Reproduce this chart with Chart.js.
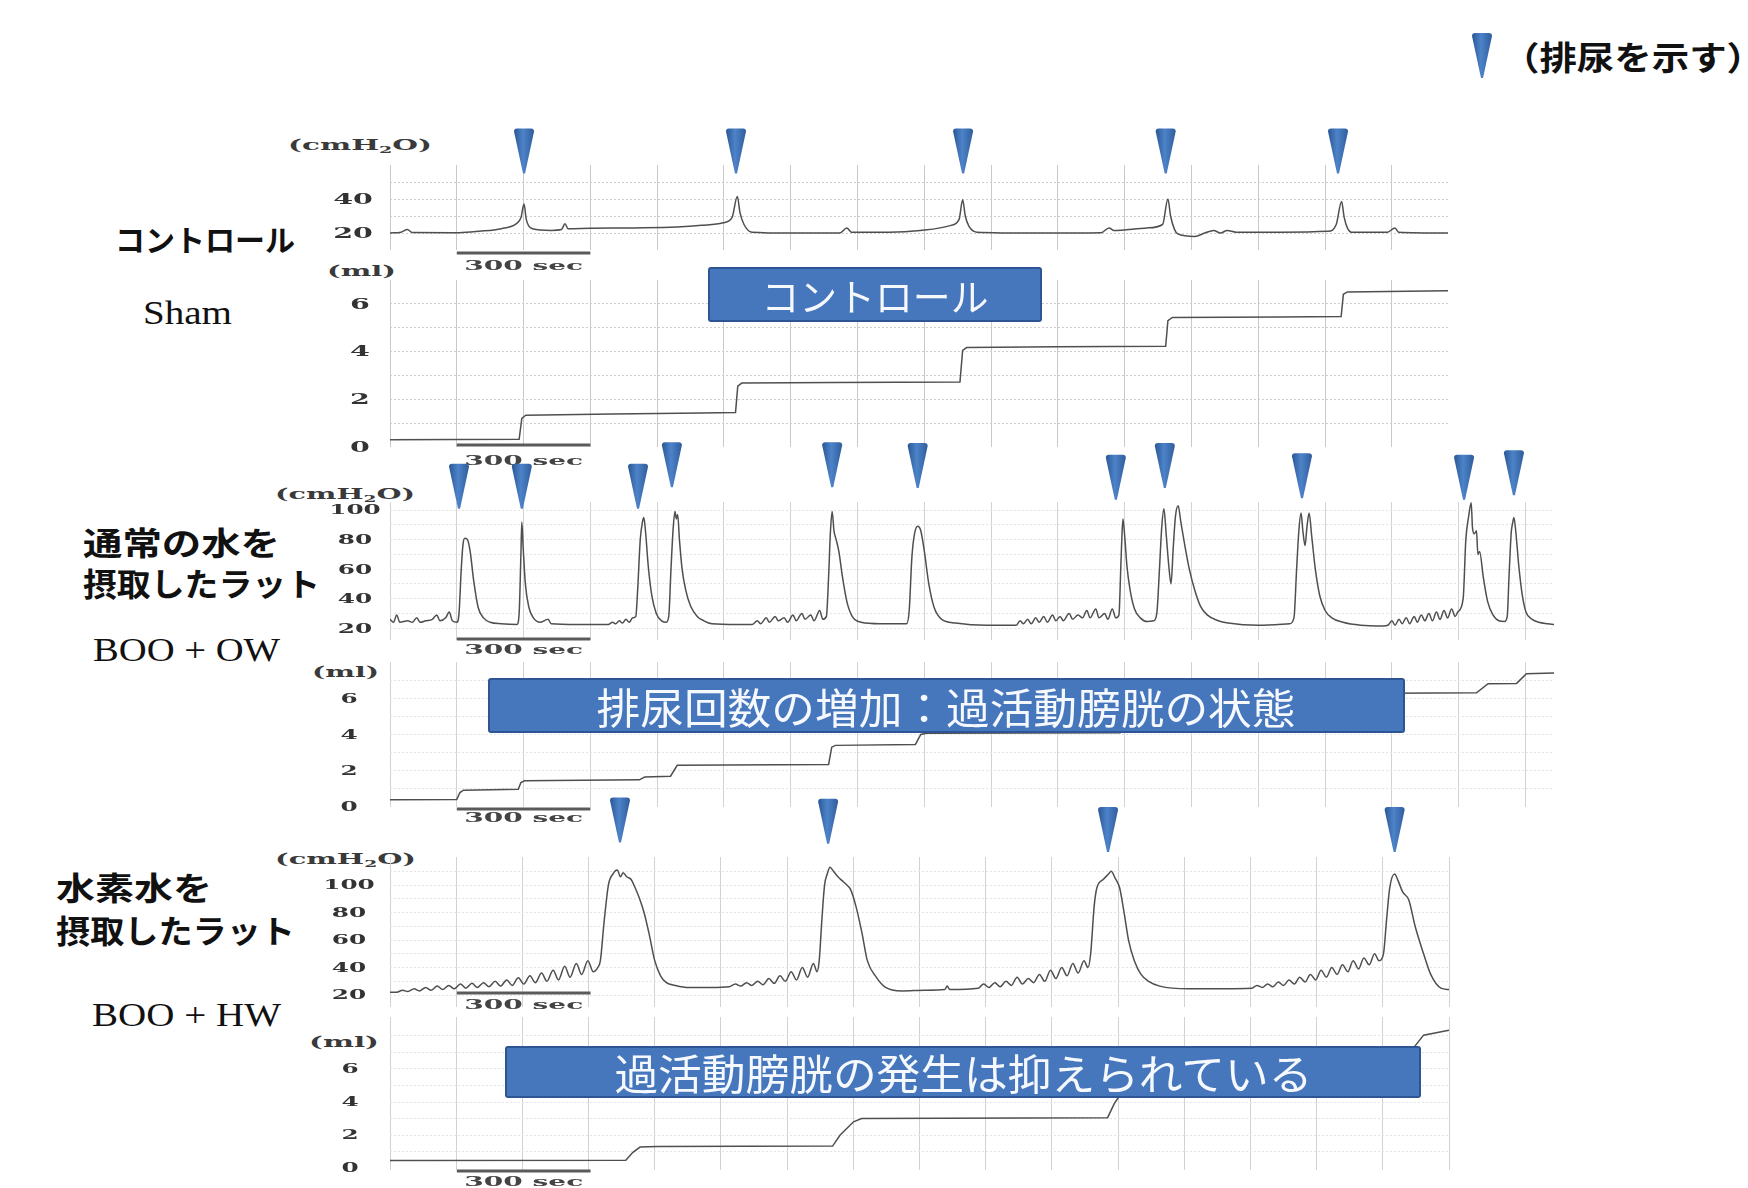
<!DOCTYPE html>
<html lang="ja">
<head>
<meta charset="utf-8">
<title>膀胱内圧測定</title>
<script src="https://cdn.jsdelivr.net/npm/chart.js@4.4.1/dist/chart.umd.min.js"></script>
<style>
  html, body { margin: 0; padding: 0; background: #ffffff; }
  body { position: relative; width: 1748px; height: 1188px; overflow: hidden; }
  canvas { position: absolute; }
  .txt { position: absolute; white-space: nowrap; line-height: 1; transform-origin: 0 50%; }
  .jp { font-family: "Noto Sans CJK JP", sans-serif; font-weight: 700; color: #111; }
  .rom { font-family: "Liberation Serif", serif; color: #111; }
  .unit { font-family: "DejaVu Serif", serif; font-weight: 700; font-size: 14px; color: #3a3a3a; }
  .unit small { font-size: 9px; vertical-align: -3px; }
  .box { position: absolute; z-index: 5; box-sizing: border-box; display: flex; align-items: center; justify-content: center; background: #4677bd; border: 2px solid #2d5593; border-radius: 3px; }
  .box span { display: inline-block; white-space: nowrap; line-height: 1; color: #f5f8fc; font-family: "Noto Sans CJK JP", sans-serif; transform-origin: 50% 50%; }
</style>
</head>
<body>

<!-- 凡例 -->
<svg style="position:absolute;left:1470px;top:32px" width="24" height="48">
  <defs>
    <linearGradient id="ag" x1="0" x2="1" y1="0" y2="0">
      <stop offset="0" stop-color="#2a5795"/><stop offset="0.45" stop-color="#4d83c9"/><stop offset="1" stop-color="#2f5d9c"/>
    </linearGradient>
  </defs>
  <path d="M2 4 Q2 1 5 1 L19 1 Q22 1 22 4 L13 46 L11 46 Z" fill="url(#ag)"/>
</svg>
<div class="txt jp" style="left:1502px;top:40px;font-size:33px" data-w="262">（排尿を示す）</div>

<!-- 左側ラベル -->
<div class="txt jp" style="left:115px;top:223px;font-size:30px" data-w="180">コントロール</div>
<div class="txt rom" style="left:143px;top:296px;font-size:34px" data-w="89">Sham</div>
<div class="txt jp" style="left:83px;top:525px;font-size:32px" data-w="197">通常の水を</div>
<div class="txt jp" style="left:83px;top:566px;font-size:32px" data-w="237">摂取したラット</div>
<div class="txt rom" style="left:93px;top:634px;font-size:33px" data-w="187">BOO + OW</div>
<div class="txt jp" style="left:56px;top:870px;font-size:32px" data-w="156">水素水を</div>
<div class="txt jp" style="left:56px;top:913px;font-size:32px" data-w="239">摂取したラット</div>
<div class="txt rom" style="left:92px;top:999px;font-size:33px" data-w="189">BOO + HW</div>

<!-- 単位 -->
<div class="txt unit" style="left:288px;top:138px" data-w="144">(cmH<small>2</small>O)</div>
<div class="txt unit" style="left:327px;top:264px" data-w="69">(ml)</div>
<div class="txt unit" style="left:275px;top:487px" data-w="140">(cmH<small>2</small>O)</div>
<div class="txt unit" style="left:312px;top:665px" data-w="67">(ml)</div>
<div class="txt unit" style="left:275px;top:852px" data-w="141">(cmH<small>2</small>O)</div>
<div class="txt unit" style="left:309px;top:1035px" data-w="70">(ml)</div>

<!-- 説明ボックス -->
<div class="box" style="left:708px;top:267px;width:334px;height:55px"><span style="font-size:38px" data-w="227">コントロール</span></div>
<div class="box" style="left:488px;top:678px;width:917px;height:55px"><span style="font-size:42px" data-w="699">排尿回数の増加：過活動膀胱の状態</span></div>
<div class="box" style="left:505px;top:1046px;width:916px;height:52px"><span style="font-size:42px" data-w="698">過活動膀胱の発生は抑えられている</span></div>

<script>
// 時間 (sec), 膀胱内圧 (cmH2O) — Sham コントロール
const CONTROL_PRESSURE = [
  [0, 20], [25, 20.5], [39, 22], [50, 20.3], [155, 20.2], [200, 21], [250, 22.5], [284, 25.5], [294, 29],
  [301, 37], [306, 28], [312, 24], [320, 22.5], [362, 21.5], [385, 22], [393, 25.5], [400, 22.5], [450, 22.8],
  [550, 23], [644, 23.5], [700, 24.5], [748, 26], [768, 29], [780, 41.5], [786, 32], [795, 25], [813, 20.5],
  [900, 20], [1010, 20], [1026, 23], [1036, 20.5], [1120, 20.5], [1191, 21.5], [1260, 24.5], [1278, 28],
  [1286, 39.5], [1292, 30], [1300, 24], [1318, 20.5], [1450, 20], [1597, 20.2], [1615, 23], [1625, 21.5],
  [1700, 23], [1735, 25], [1747, 40], [1753, 30], [1762, 22], [1769, 19.5], [1807, 18], [1830, 20],
  [1850, 21.5], [1865, 20], [1880, 21.5], [1900, 20.5], [2000, 20.5], [2106, 21], [2125, 25], [2137, 38.5],
  [2143, 29], [2150, 23], [2159, 20.5], [2240, 20.5], [2257, 23], [2265, 20.5], [2376, 20],
];

// 時間 (sec), 排尿量 (ml) — Sham コントロール
const CONTROL_VOLUME = [
  [0, 0.3], [290, 0.32], [296, 1.2], [305, 1.33], [500, 1.38], [700, 1.42], [776, 1.45], [781, 2.55],
  [790, 2.68], [1000, 2.7], [1280, 2.72], [1286, 4.05], [1295, 4.17], [1500, 4.2], [1742, 4.22],
  [1747, 5.3], [1757, 5.43], [2000, 5.45], [2136, 5.47], [2141, 6.4], [2150, 6.5], [2376, 6.55],
];

// BOO + OW (通常の水)
const OW_PRESSURE = [
  [0, 26], [8, 24], [15, 29], [22, 24], [40, 25], [50, 24], [60, 27], [68, 24], [80, 25], [95, 26], [105, 29],
  [112, 25], [125, 27], [133, 31], [140, 25], [150, 24],
  [155, 30], [160, 60], [164, 77], [168, 81], [174, 80], [180, 72], [188, 52], [198, 34], [210, 27], [225, 24],
  [250, 23], [285, 22.5],
  [290, 30], [294, 70], [296, 92], [299, 75], [304, 50], [312, 34], [322, 27], [337, 24], [355, 26], [362, 23],
  [420, 22.5], [490, 22.5], [500, 24], [507, 23], [515, 25], [522, 23.5], [530, 26], [537, 24], [545, 27], [552, 28],
  [556, 45], [562, 80], [567, 92], [570, 95], [574, 85], [580, 62], [588, 42], [598, 30], [610, 25], [620, 24],
  [626, 28], [631, 60], [636, 88], [640, 99], [643, 94], [646, 97], [650, 80], [656, 60], [664, 46], [675, 35],
  [690, 28], [705, 25], [723, 23], [780, 22.5], [813, 22.5],
  [825, 25], [832, 23], [845, 27], [852, 24], [865, 28], [872, 25], [885, 27], [893, 24], [905, 29], [912, 25],
  [925, 30], [932, 26], [945, 29], [952, 25], [965, 32], [972, 26], [980, 28],
  [985, 55], [989, 85], [993, 99], [997, 86], [1002, 80], [1008, 72], [1016, 55], [1026, 38], [1038, 28],
  [1058, 24], [1100, 23], [1160, 23],
  [1166, 32], [1172, 68], [1178, 84], [1185, 89], [1192, 86], [1200, 72], [1210, 50], [1222, 34], [1239, 26],
  [1270, 23.5], [1340, 22], [1406, 22],
  [1415, 25], [1422, 23], [1432, 26], [1440, 23], [1450, 27], [1458, 24], [1468, 28], [1476, 24], [1488, 29],
  [1495, 25], [1505, 28], [1512, 25], [1525, 30], [1533, 26], [1545, 29], [1555, 27], [1565, 32], [1572, 27],
  [1585, 33], [1592, 27], [1605, 30], [1612, 26], [1622, 33], [1630, 27], [1637, 29],
  [1641, 60], [1644, 85], [1646, 94], [1650, 82], [1655, 62], [1662, 46], [1672, 33], [1685, 27], [1700, 24.5],
  [1715, 25],
  [1722, 30], [1728, 60], [1733, 88], [1738, 101], [1743, 84], [1749, 62], [1754, 50], [1759, 75], [1764, 96],
  [1770, 103], [1776, 92], [1785, 76], [1795, 60], [1808, 45], [1820, 35], [1835, 29], [1860, 25], [1882, 23.5],
  [1950, 22], [2020, 23],
  [2030, 27], [2036, 60], [2041, 86], [2046, 98], [2050, 86], [2055, 76], [2059, 88], [2064, 98], [2070, 82],
  [2078, 60], [2088, 42], [2100, 32], [2115, 27], [2140, 24], [2180, 22], [2230, 21.5],
  [2241, 22], [2250, 25], [2257, 22], [2266, 26], [2273, 23], [2282, 27], [2290, 23], [2300, 28], [2307, 24],
  [2316, 29], [2324, 25], [2333, 30], [2341, 25], [2350, 31], [2358, 26], [2367, 32], [2375, 27], [2384, 33],
  [2392, 28], [2398, 31],
  [2410, 40], [2416, 80], [2422, 95], [2428, 105], [2431, 88], [2435, 84], [2440, 86], [2443, 70], [2447, 72],
  [2455, 55], [2465, 38], [2477, 29], [2490, 25], [2503, 24.5],
  [2509, 28], [2513, 55], [2518, 85], [2521, 91], [2524, 95], [2528, 86], [2535, 62], [2543, 42], [2551, 31],
  [2565, 26], [2580, 24], [2600, 23], [2614, 22.5],
];

const OW_VOLUME = [
  [0, 0.4], [150, 0.42], [157, 0.8], [165, 0.93], [288, 0.98], [294, 1.35], [302, 1.45], [560, 1.5],
  [572, 1.65], [630, 1.7], [645, 2.3], [985, 2.35], [992, 3.3], [1000, 3.4], [1180, 3.45], [1192, 4.0],
  [1205, 4.07], [1640, 4.1], [1650, 4.8], [1765, 4.85], [1775, 5.6], [2040, 5.65], [2052, 6.25],
  [2440, 6.3], [2466, 6.8], [2530, 6.82], [2552, 7.35], [2614, 7.4],
];

// BOO + HW (水素水)
const HW_PRESSURE = [
  [0, 22], [15, 22], [28, 23.5], [40, 22.5], [54, 24.5], [66, 23], [80, 25.5], [92, 23.5], [106, 26.5],
  [118, 24], [132, 27], [144, 24.5], [158, 28], [170, 25], [184, 28.5], [196, 25.5], [210, 29], [222, 26],
  [236, 30], [248, 26.5], [262, 31], [274, 27], [288, 32.5], [300, 28], [314, 34], [326, 29], [340, 36],
  [352, 30], [366, 38], [378, 31], [392, 41], [404, 33], [418, 43], [430, 35], [444, 45], [456, 37], [466, 40],
  [472, 45], [480, 72], [490, 100], [500, 108], [510, 111], [517, 106], [523, 109], [531, 106], [541, 104],
  [550, 98], [560, 90], [570, 80], [581, 65], [594, 45], [607, 34], [620, 29], [640, 27], [671, 25.5],
  [720, 25.5], [761, 26],
  [775, 28], [787, 26.5], [800, 29], [812, 27], [825, 30], [837, 27.5], [850, 32], [862, 28.5], [875, 34],
  [887, 30], [900, 37], [912, 31], [925, 40], [937, 33], [950, 43], [958, 37],
  [963, 45], [969, 75], [975, 100], [981, 108], [987, 113], [995, 110], [1005, 106], [1015, 103], [1025, 100],
  [1033, 97], [1045, 85], [1059, 65], [1071, 45], [1091, 33], [1110, 26], [1149, 23], [1200, 23.5],
  [1245, 24], [1250, 26.5], [1256, 24], [1320, 25],
  [1332, 28], [1344, 25.5], [1357, 29], [1369, 26], [1382, 30], [1394, 27], [1407, 33], [1419, 28], [1432, 32],
  [1444, 29], [1457, 35], [1469, 30], [1482, 38], [1494, 32], [1507, 40], [1519, 34], [1532, 43], [1544, 36],
  [1557, 45], [1566, 40],
  [1572, 50], [1580, 85], [1586, 98], [1600, 104], [1612, 108], [1618, 110], [1627, 105], [1637, 98],
  [1647, 80], [1657, 60], [1670, 45], [1685, 35], [1702, 30], [1727, 26.5], [1792, 24.5], [1933, 25],
  [1945, 27], [1957, 25.5], [1969, 28], [1981, 26], [1993, 29.5], [2005, 27], [2017, 31], [2029, 28],
  [2041, 33], [2053, 29.5], [2065, 35], [2077, 31], [2089, 38], [2101, 33], [2113, 40], [2125, 35],
  [2137, 42], [2149, 37], [2161, 45], [2173, 39], [2185, 47], [2197, 42], [2209, 50], [2219, 45], [2229, 50],
  [2236, 75], [2243, 98], [2254, 108], [2262, 103], [2272, 95], [2286, 89], [2300, 70], [2319, 50],
  [2335, 35], [2358, 25], [2376, 24],
];

const HW_VOLUME = [
  [0, 0.45], [529, 0.47], [545, 0.95], [561, 1.27], [600, 1.3], [993, 1.33], [1010, 2.0], [1040, 2.8],
  [1058, 3.0], [1610, 3.05], [1625, 3.9], [1640, 4.5], [1660, 4.65], [2250, 4.7], [2270, 5.8],
  [2300, 7.4], [2319, 8.05], [2376, 8.35],
];

// 排尿マーカー (時間, 先端の高さ cmH2O)
const CONTROL_ARROW_TIMES = [301, 777, 1287, 1742, 2129];
const CONTROL_ARROW_LEVELS = [55, 55, 55, 55, 55];
const OW_ARROW_TIMES = [155, 296, 557, 633, 993, 1185, 1630, 1740, 2048, 2412, 2524];
const OW_ARROW_LEVELS = [101, 101, 101, 115.5, 115.5, 115, 107, 115, 108, 107, 110];
const HW_ARROW_TIMES = [516, 983, 1611, 2254];
const HW_ARROW_LEVELS = [131, 130, 124, 124];

// 目盛り
const CONTROL_PRESSURE_TICKS = [20, 40];
const BOO_PRESSURE_TICKS = [20, 40, 60, 80, 100];
const VOLUME_TICKS = [0, 2, 4, 6];
const CONTROL_PRESSURE_GRID = [20, 30, 40, 50];
const CONTROL_VOLUME_GRID = [1, 2, 3, 4, 5, 6];
const OW_PRESSURE_GRID = [20, 30, 40, 50, 60, 70, 80, 90, 100];
const OW_VOLUME_GRID = [1, 2, 3, 4, 5, 6, 7];
const HW_PRESSURE_GRID = [20, 30, 40, 50, 60, 70, 80, 90, 100, 110];
const HW_VOLUME_GRID = [1, 2, 3, 4, 5, 6, 7, 8];
const SCALE_BAR = [150, 450]; // 300 sec

const CANVAS_LEFT = 300;
const AXIS_W = 90;

// 細長い逆三角形 (排尿マーカー)
const drawArrow = (ctx, x, tip) => {
  const w = 10;
  const top = tip - 45;
  const g = ctx.createLinearGradient(x - w, 0, x + w, 0);
  g.addColorStop(0, "#2a5795");
  g.addColorStop(0.45, "#4d83c9");
  g.addColorStop(1, "#2f5d9c");
  ctx.beginPath();
  ctx.moveTo(x - w, top + 3);
  ctx.quadraticCurveTo(x - w, top, x - w + 3, top);
  ctx.lineTo(x + w - 3, top);
  ctx.quadraticCurveTo(x + w, top, x + w, top + 3);
  ctx.lineTo(x + 1, tip);
  ctx.lineTo(x - 1, tip);
  ctx.closePath();
  ctx.fillStyle = g;
  ctx.fill();
};

// 横に引き伸ばした文字
const wideText = (ctx, text, x, y, sx) => {
  ctx.save();
  ctx.translate(x, y);
  ctx.scale(sx, 1);
  ctx.fillText(text, 0, 0);
  ctx.restore();
};

// 目盛りラベル・スケールバー・マーカーを描くプラグイン
const marks = (p) => ({
  id: "marks",
  afterDatasetsDraw(chart) {
    const { ctx, chartArea, scales: { x, y } } = chart;
    ctx.save();
    ctx.textAlign = "center";
    ctx.textBaseline = "middle";

    ctx.fillStyle = "#333";
    ctx.font = `bold ${p.tickSize}px "DejaVu Serif"`;
    p.tickLabels.forEach((v) => {
      wideText(ctx, String(v), chartArea.left + p.tickX, y.getPixelForValue(v) + 1, 1.9);
    });

    const x0 = x.getPixelForValue(SCALE_BAR[0]);
    const x1 = x.getPixelForValue(SCALE_BAR[1]);
    ctx.fillStyle = "#5a5a5a";
    ctx.fillRect(x0, chartArea.bottom + p.barDy - 1.5, x1 - x0, 3);
    ctx.fillStyle = "#444";
    ctx.font = 'bold 13px "DejaVu Serif"';
    const label = "300 sec";
    const nat = ctx.measureText(label).width;
    wideText(ctx, label, (x0 + x1) / 2, chartArea.bottom + p.textDy, ((x1 - x0) * 0.89) / nat);

    (p.arrowTimes || []).forEach((t, i) => {
      drawArrow(ctx, x.getPixelForValue(t), y.getPixelForValue(p.arrowLevels[i]));
    });
    ctx.restore();
  },
});

// 1 段分のチャートを作る
const makePanel = (p) => {
  const canvas = document.createElement("canvas");
  canvas.width = p.right - CANVAS_LEFT + 8;
  canvas.height = p.bottom - p.top + p.padTop + p.padBottom;
  canvas.style.left = CANVAS_LEFT + "px";
  canvas.style.top = p.top - p.padTop + "px";
  document.body.appendChild(canvas);

  return new Chart(canvas.getContext("2d"), {
    type: "line",
    data: {
      datasets: [
        {
          data: p.series.map(([x, y]) => ({ x, y })),
          borderColor: "#4f4f4f",
          borderWidth: 1.5,
          pointRadius: 0,
          fill: false,
          tension: p.smooth ? 0.3 : 0,
          cubicInterpolationMode: p.smooth ? "monotone" : "default",
        },
      ],
    },
    options: {
      responsive: false,
      animation: false,
      events: [],
      layout: { padding: { top: p.padTop, bottom: p.padBottom, left: 0, right: 8 } },
      plugins: { legend: { display: false }, tooltip: { enabled: false } },
      scales: {
        x: {
          type: "linear",
          min: 0,
          max: p.xMax,
          ticks: { display: false, stepSize: p.xStep, maxTicksLimit: 100, includeBounds: false },
          grid: { color: p.vGrid, drawTicks: false },
          border: { display: false },
          afterFit: (a) => { a.height = 0; },
        },
        y: {
          type: "linear",
          min: p.yMin,
          max: p.yMax,
          afterBuildTicks: (a) => { a.ticks = p.gridY.map((v) => ({ value: v })); },
          ticks: { display: false },
          grid: { color: p.hGrid, drawTicks: false },
          border: { display: false, dash: [2, 2] },
          afterFit: (a) => { a.width = AXIS_W; },
        },
      },
    },
    plugins: [marks(p)],
  });
};

makePanel({
  series: CONTROL_PRESSURE, smooth: true, top: 165, bottom: 250, right: 1448, padTop: 60, padBottom: 30,
  xMax: 2376, xStep: 150, yMin: 10, yMax: 60, gridY: CONTROL_PRESSURE_GRID,
  vGrid: "#c9c9c9", hGrid: "#cdcdcd", tickLabels: CONTROL_PRESSURE_TICKS, tickSize: 15, tickX: -37,
  barDy: 3, textDy: 17, arrowTimes: CONTROL_ARROW_TIMES, arrowLevels: CONTROL_ARROW_LEVELS,
});
makePanel({
  series: CONTROL_VOLUME, smooth: false, top: 280, bottom: 447, right: 1448, padTop: 10, padBottom: 25,
  xMax: 2376, xStep: 150, yMin: 0, yMax: 7, gridY: CONTROL_VOLUME_GRID,
  vGrid: "#c9c9c9", hGrid: "#cdcdcd", tickLabels: VOLUME_TICKS, tickSize: 15, tickX: -30,
  barDy: -2, textDy: 15,
});
makePanel({
  series: OW_PRESSURE, smooth: true, top: 502, bottom: 640, right: 1554, padTop: 65, padBottom: 20,
  xMax: 2614, xStep: 150, yMin: 12, yMax: 105.5, gridY: OW_PRESSURE_GRID,
  vGrid: "#d2d2d2", hGrid: "#e4e4e4", tickLabels: BOO_PRESSURE_TICKS, tickSize: 13, tickX: -35,
  barDy: -1, textDy: 11, arrowTimes: OW_ARROW_TIMES, arrowLevels: OW_ARROW_LEVELS,
});
makePanel({
  series: OW_VOLUME, smooth: false, top: 662, bottom: 807, right: 1554, padTop: 10, padBottom: 20,
  xMax: 2614, xStep: 150, yMin: 0, yMax: 8, gridY: OW_VOLUME_GRID,
  vGrid: "#d2d2d2", hGrid: "#e4e4e4", tickLabels: VOLUME_TICKS, tickSize: 13, tickX: -41,
  barDy: 2, textDy: 12,
});
makePanel({
  series: HW_PRESSURE, smooth: true, top: 857, bottom: 1007, right: 1449, padTop: 65, padBottom: 10,
  xMax: 2376, xStep: 148.5, yMin: 11.3, yMax: 120.4, gridY: HW_PRESSURE_GRID,
  vGrid: "#d2d2d2", hGrid: "#e4e4e4", tickLabels: BOO_PRESSURE_TICKS, tickSize: 13, tickX: -41,
  barDy: -14, textDy: -1, arrowTimes: HW_ARROW_TIMES, arrowLevels: HW_ARROW_LEVELS,
});
makePanel({
  series: HW_VOLUME, smooth: false, top: 1017, bottom: 1170, right: 1449, padTop: 10, padBottom: 22,
  xMax: 2376, xStep: 148.5, yMin: -0.12, yMax: 9.15, gridY: HW_VOLUME_GRID,
  vGrid: "#d2d2d2", hGrid: "#e4e4e4", tickLabels: VOLUME_TICKS, tickSize: 13, tickX: -40,
  barDy: 1, textDy: 13,
});

// 文字幅を元の図に合わせる
const fitText = () => {
  document.querySelectorAll("[data-w]").forEach((el) => {
    el.style.transform = "none";
    const natural = el.getBoundingClientRect().width;
    el.style.transform = `scaleX(${Number(el.dataset.w) / natural})`;
  });
};
fitText();
if (document.fonts) document.fonts.ready.then(fitText);
</script>
</body>
</html>
